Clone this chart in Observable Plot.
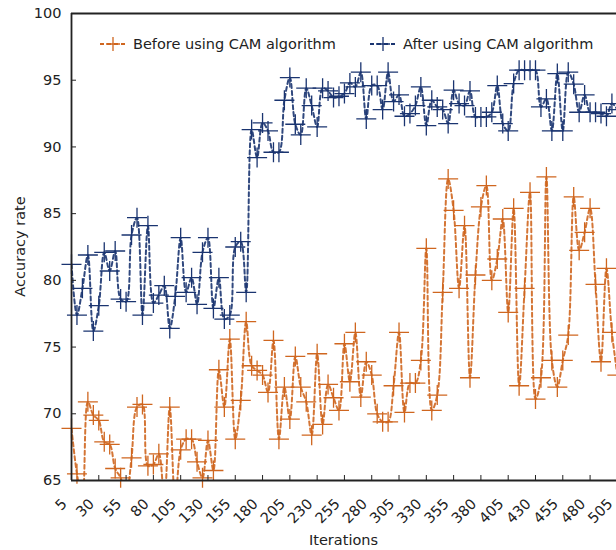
<!DOCTYPE html>
<html>
<head>
<meta charset="utf-8">
<script src="https://cdn.jsdelivr.net/npm/d3@7"></script>
<script src="https://cdn.jsdelivr.net/npm/@observablehq/plot@0.6"></script>
<style>
html, body { margin: 0; padding: 0; background: #fff; overflow: hidden; }
#chart svg { display: block; }
</style>
</head>
<body>
<div id="chart"></div>
<script>
// ---- data ----
const iterations = [5,10,15,20,25,30,35,40,45,50,55,60,65,70,75,80,85,90,95,100,
  105,110,115,120,125,130,135,140,145,150,155,160,165,170,175,180,185,190,195,200,
  205,210,215,220,225,230,235,240,245,250,255,260,265,270,275,280,285,290,295,300,
  305,310,315,320,325,330,335,340,345,350,355,360,365,370,375,380,385,390,395,400,
  405,410,415,420,425,430,435,440,445,450,455,460,465,470,475,480,485,490,495,500,505];

const beforeCAM = [68.9,65.5,63.5,70.9,69.9,69.5,67.9,67.7,65.9,65.2,
  63.8,66.7,70.5,70.7,66.1,66.2,67.0,63.5,70.5,63.3,
  67.3,68.1,68.1,66.4,65.2,68.0,65.75,73.3,70.5,75.6,
  68.1,71.0,76.9,73.6,73.25,72.9,71.6,75.5,68.1,72.0,
  69.6,74.3,72.0,70.9,68.4,74.5,69.2,72.2,71.2,70.25,
  75.25,72.4,76.1,71.25,73.9,72.9,70.0,69.4,69.4,72.1,
  76.1,70.1,72.3,72.3,74.0,82.4,70.25,71.4,79.1,87.6,
  85.25,79.4,84.1,72.7,80.4,85.5,87.1,80.0,81.6,84.6,
  77.6,85.4,72.1,79.4,86.6,71.1,72.7,87.75,74.0,72.0,
  74.0,75.9,86.25,82.25,83.6,85.4,79.7,73.9,80.9,76.1,72.9];

const afterCAM = [81.2,77.4,79.4,81.9,76.2,78.1,82.1,80.7,82.2,78.6,
  78.4,83.4,84.7,77.4,84.1,78.3,78.9,79.6,76.4,78.8,
  83.2,79.1,80.2,78.2,82.1,83.2,77.9,80.2,77.1,77.4,
  82.5,82.9,79.1,91.3,89.2,91.8,91.2,89.6,89.6,93.5,
  95.2,91.7,90.9,94.4,93.1,91.5,94.4,94.2,93.7,93.8,
  94.0,94.8,94.5,95.6,92.1,94.6,94.6,92.8,95.6,93.4,
  93.9,92.3,92.5,93.1,94.5,91.6,93.5,93.0,92.8,91.75,
  94.25,93.25,93.1,94.2,92.25,92.25,92.25,92.6,94.6,91.75,
  91.2,94.75,95.75,95.75,95.75,95.75,93.0,93.6,91.2,95.5,
  91.2,95.6,94.7,92.6,93.9,92.6,92.6,92.5,92.3,93.25,92.8];

const seriesNames = ["Before using CAM algorithm", "After using CAM algorithm"];
const seriesColors = ["#cf661f", "#1a3470"];
const xTicks = [5,30,55,80,105,130,155,180,205,230,255,280,305,330,355,380,405,430,455,480,505];
const yTicks = [65,70,75,80,85,90,95,100];
const xTitle = "Iterations";
const yTitle = "Accuracy rate";

// ---- build table ----
const before = iterations.map((x, i) => ({x, y: beforeCAM[i]}));
const after = iterations.map((x, i) => ({x, y: afterCAM[i]}));

const plusSymbol = {
  draw(ctx, size) {
    const r = Math.sqrt(size / Math.PI);
    ctx.moveTo(-r, 0); ctx.lineTo(r, 0);
    ctx.moveTo(0, -r); ctx.lineTo(0, r);
  }
};

const W = 616, H = 550;
const mL = 71, mT = 13, mB = 70, mR = 0;

function seriesMarks(data, color) {
  return [
    Plot.line(data, {x: "x", y: "y", stroke: color, strokeWidth: 2, strokeDasharray: "4,3",
      curve: "catmull-rom", clip: true, strokeOpacity: 0.9}),
    Plot.dot(data, {x: "x", y: "y", symbol: plusSymbol, r: 10, fill: "none", stroke: color,
      strokeWidth: 1.3, filter: d => d.y >= 65})
  ];
}

const chart = Plot.plot({
  width: W, height: H,
  marginLeft: mL, marginTop: mT, marginBottom: mB, marginRight: mR,
  style: {fontFamily: "'DejaVu Sans', Verdana, sans-serif", fontSize: "14.5px", color: "#222", background: "#fff"},
  x: {domain: [5, 504.2], label: null},
  y: {domain: [65, 100], label: null},
  marks: [
    ...seriesMarks(before, seriesColors[0]),
    ...seriesMarks(after, seriesColors[1]),
    Plot.ruleY([100], {stroke: "#222", strokeWidth: 1.8}),
    Plot.ruleY([65], {stroke: "#222", strokeWidth: 1.8}),
    Plot.ruleX([5], {stroke: "#222", strokeWidth: 1.8}),
    Plot.axisX(xTicks, {tickSize: -5, tickFormat: () => "", label: null, stroke: "#222"}),
    Plot.axisX(xTicks, {tickSize: 0, tickPadding: 21, tickRotate: -45, dx: -7, label: null}),
    Plot.axisY(yTicks, {tickSize: -5, tickPadding: 15, label: null, stroke: "#222"})
  ]
});

document.getElementById("chart").appendChild(chart);

// ---- titles and legend ----
const svg = d3.select(chart);
svg.append("text")
  .attr("x", (mL + W) / 2).attr("y", 545)
  .attr("text-anchor", "middle").attr("fill", "#222")
  .style("font-size", "14.5px").text(xTitle);
svg.append("text")
  .attr("transform", `translate(20,${(mT + H - mB) / 2}) rotate(-90)`)
  .attr("text-anchor", "middle").attr("dy", "0.35em").attr("fill", "#222")
  .style("font-size", "14.5px").text(yTitle);

const legendItems = [
  {name: seriesNames[0], color: seriesColors[0], x0: 100},
  {name: seriesNames[1], color: seriesColors[1], x0: 370}
];
const lg = svg.append("g");
legendItems.forEach(it => {
  const g = lg.append("g").attr("transform", `translate(${it.x0},44)`);
  g.append("line").attr("x1", 0).attr("x2", 25).attr("y1", 0).attr("y2", 0)
    .attr("stroke", it.color).attr("stroke-width", 2).attr("stroke-dasharray", "4,3");
  g.append("path").attr("d", "M6,0H20M13,-7V7").attr("stroke", it.color)
    .attr("stroke-width", 1.3).attr("fill", "none");
  g.append("text").attr("x", 33).attr("y", 0).attr("dy", "0.35em")
    .attr("text-anchor", "start")
    .attr("fill", "#222").style("font-size", "14.5px").text(it.name);
});
</script>
</body>
</html>
